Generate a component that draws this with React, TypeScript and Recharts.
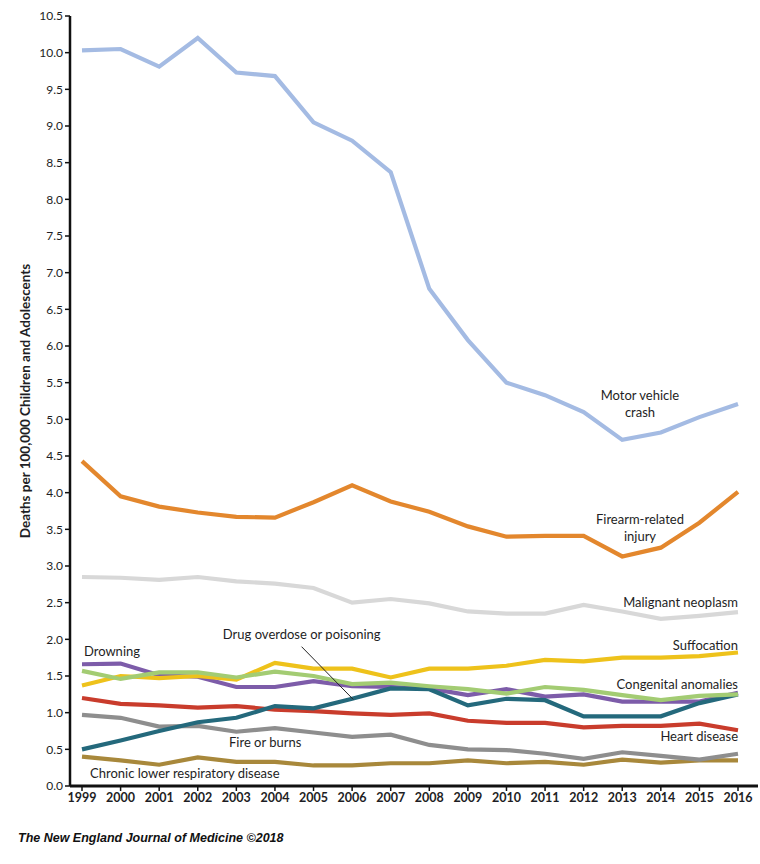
import { LineChart, Line, XAxis, YAxis, ReferenceDot, ReferenceLine } from 'recharts'

const years = [1999, 2000, 2001, 2002, 2003, 2004, 2005, 2006, 2007, 2008, 2009, 2010, 2011, 2012, 2013, 2014, 2015, 2016]

const motorVehicle = [10.03, 10.05, 9.81, 10.2, 9.73, 9.68, 9.05, 8.8, 8.37, 6.78, 6.08, 5.5, 5.33, 5.1, 4.72, 4.82, 5.03, 5.21]
const firearm = [4.43, 3.95, 3.81, 3.73, 3.67, 3.66, 3.87, 4.1, 3.88, 3.74, 3.54, 3.4, 3.41, 3.41, 3.13, 3.25, 3.59, 4.01]
const malignant = [2.85, 2.84, 2.81, 2.85, 2.79, 2.76, 2.7, 2.5, 2.55, 2.49, 2.38, 2.35, 2.35, 2.47, 2.38, 2.28, 2.32, 2.37]
const suffocation = [1.37, 1.5, 1.47, 1.5, 1.45, 1.68, 1.6, 1.6, 1.48, 1.6, 1.6, 1.64, 1.72, 1.7, 1.75, 1.75, 1.77, 1.82]
const congenital = [1.57, 1.46, 1.55, 1.55, 1.48, 1.56, 1.5, 1.39, 1.41, 1.36, 1.32, 1.26, 1.35, 1.31, 1.24, 1.17, 1.23, 1.25]
const drowning = [1.66, 1.67, 1.51, 1.49, 1.35, 1.35, 1.43, 1.36, 1.35, 1.33, 1.24, 1.32, 1.22, 1.25, 1.15, 1.15, 1.15, 1.27]
const drugOverdose = [0.5, 0.62, 0.75, 0.87, 0.93, 1.09, 1.06, 1.19, 1.33, 1.32, 1.1, 1.19, 1.17, 0.95, 0.95, 0.95, 1.13, 1.25]
const heartDisease = [1.2, 1.12, 1.1, 1.07, 1.09, 1.04, 1.02, 0.99, 0.97, 0.99, 0.89, 0.86, 0.86, 0.8, 0.82, 0.82, 0.85, 0.76]
const fireBurns = [0.97, 0.93, 0.81, 0.82, 0.74, 0.79, 0.73, 0.67, 0.7, 0.56, 0.5, 0.49, 0.44, 0.37, 0.46, 0.41, 0.36, 0.44]
const chronicResp = [0.4, 0.35, 0.29, 0.39, 0.33, 0.33, 0.28, 0.28, 0.31, 0.31, 0.35, 0.31, 0.33, 0.29, 0.36, 0.32, 0.35, 0.35]

const yTicks = [0, 0.5, 1, 1.5, 2, 2.5, 3, 3.5, 4, 4.5, 5, 5.5, 6, 6.5, 7, 7.5, 8, 8.5, 9, 9.5, 10, 10.5]

const data = years.map((year, i) => ({
  year,
  motorVehicle: motorVehicle[i],
  firearm: firearm[i],
  malignant: malignant[i],
  suffocation: suffocation[i],
  congenital: congenital[i],
  drowning: drowning[i],
  drugOverdose: drugOverdose[i],
  heartDisease: heartDisease[i],
  fireBurns: fireBurns[i],
  chronicResp: chronicResp[i],
}))

// draw order: first is at the bottom
const series = [
  { key: 'malignant', color: '#d8d8d8' },
  { key: 'chronicResp', color: '#a8883b' },
  { key: 'fireBurns', color: '#8e8e8e' },
  { key: 'heartDisease', color: '#c93c2c' },
  { key: 'drowning', color: '#7d5ca9' },
  { key: 'drugOverdose', color: '#24697c' },
  { key: 'suffocation', color: '#eec21b' },
  { key: 'congenital', color: '#a3cc73' },
  { key: 'firearm', color: '#e3872d' },
  { key: 'motorVehicle', color: '#a4bbe3' },
]

const FONT = 'Lato, "Open Sans", sans-serif'
const INK = '#1e1e24'

// text label drawn at a data point; cy is the middle of the first line
const note = (lines: string[], anchor: 'start' | 'middle' | 'end') => (p: any) => (
  <text x={p.cx} y={p.cy} textAnchor={anchor} fontSize={13} fontFamily={FONT} fill={INK}>
    {lines.map((l, i) => (
      <tspan key={i} x={p.cx} dy={i === 0 ? 4.5 : 17}>{l}</tspan>
    ))}
  </text>
)

function YTitle({ viewBox }: any) {
  const cx = 25
  const cy = viewBox.y + viewBox.height / 2
  return (
    <text
      x={cx}
      y={cy}
      transform={`rotate(-90 ${cx} ${cy})`}
      textAnchor="middle"
      dominantBaseline="central"
      fontSize={13.5}
      fontWeight={700}
      fontFamily={FONT}
      fill={INK}
    >
      Deaths per 100,000 Children and Adolescents
    </text>
  )
}

export default function App() {
  return (
    <div style={{ position: 'absolute', left: 0, top: 0, width: 760, height: 864, background: '#fff' }}>
      <LineChart width={760} height={864} data={data} margin={{ top: 16, right: 2, left: 0, bottom: 0 }}>
        <XAxis
          dataKey="year"
          type="number"
          domain={[1999, 2016]}
          ticks={years}
          interval={0}
          padding={{ left: 12, right: 20 }}
          height={78}
          axisLine={{ stroke: '#111', strokeWidth: 3 }}
          tickLine={{ stroke: '#111', strokeWidth: 1.5 }}
          tickSize={5}
          tickMargin={2}
          tick={{ fill: INK, fontSize: 12.5, fontWeight: 700, fontFamily: FONT }}
        />
        <YAxis
          type="number"
          domain={[0, 10.5]}
          ticks={yTicks}
          interval={0}
          width={70}
          axisLine={{ stroke: '#111', strokeWidth: 2.5 }}
          tickLine={{ stroke: '#111', strokeWidth: 1.5 }}
          tickSize={5}
          tickMargin={2}
          tickFormatter={(v: number) => v.toFixed(1)}
          tick={{ fill: INK, fontSize: 12, fontFamily: FONT }}
          label={<YTitle />}
        />
        {series.map(s => (
          <Line
            key={s.key}
            dataKey={s.key}
            type="linear"
            stroke={s.color}
            strokeWidth={4.2}
            dot={false}
            activeDot={false}
            isAnimationActive={false}
          />
        ))}
        <ReferenceLine
          segment={[{ x: 2004.69, y: 1.9 }, { x: 2006.03, y: 1.18 }]}
          stroke="#222"
          strokeWidth={1}
          ifOverflow="visible"
        />
        <ReferenceDot x={2013.46} y={5.32} ifOverflow="visible" shape={note(['Motor vehicle', 'crash'], 'middle')} />
        <ReferenceDot x={2013.46} y={3.64} ifOverflow="visible" shape={note(['Firearm-related', 'injury'], 'middle')} />
        <ReferenceDot x={2016} y={2.5} ifOverflow="visible" shape={note(['Malignant neoplasm'], 'end')} />
        <ReferenceDot x={2016} y={1.92} ifOverflow="visible" shape={note(['Suffocation'], 'end')} />
        <ReferenceDot x={2016} y={1.38} ifOverflow="visible" shape={note(['Congenital anomalies'], 'end')} />
        <ReferenceDot x={2016} y={0.68} ifOverflow="visible" shape={note(['Heart disease'], 'end')} />
        <ReferenceDot x={1999.05} y={1.83} ifOverflow="visible" shape={note(['Drowning'], 'start')} />
        <ReferenceDot x={2002.65} y={2.06} ifOverflow="visible" shape={note(['Drug overdose or poisoning'], 'start')} />
        <ReferenceDot x={2002.81} y={0.59} ifOverflow="visible" shape={note(['Fire or burns'], 'start')} />
        <ReferenceDot x={1999.21} y={0.17} ifOverflow="visible" shape={note(['Chronic lower respiratory disease'], 'start')} />
      </LineChart>
      <div
        style={{
          position: 'absolute',
          left: 18,
          top: 831,
          fontFamily: '"Liberation Sans", Arial, sans-serif',
          fontStyle: 'italic',
          fontWeight: 700,
          fontSize: 12.5,
          lineHeight: '14px',
          color: '#111',
          whiteSpace: 'nowrap',
        }}
      >
        The New England Journal of Medicine ©2018
      </div>
    </div>
  )
}
